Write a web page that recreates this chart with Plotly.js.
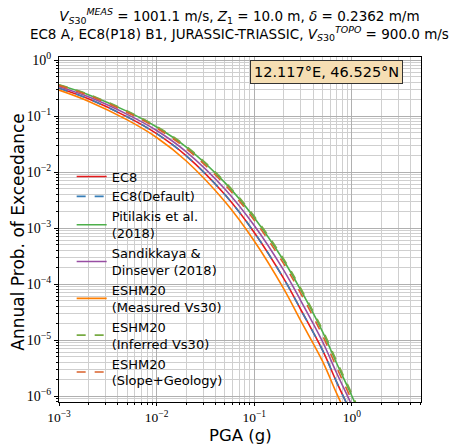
<!DOCTYPE html>
<html>
<head>
<meta charset="utf-8">
<script src="https://cdn.plot.ly/plotly-3.0.1.min.js"></script>
<style>html,body{margin:0;padding:0;background:#fff}#chart{width:456px;height:448px}</style>
</head>
<body>
<div id="chart"></div>
<script>
// PGA grid (g)
const pga = [0.001, 0.002, 0.005, 0.01, 0.02, 0.05, 0.1, 0.2, 0.3, 0.5, 0.7, 1.0, 1.2, 1.4];

// Annual probability of exceedance
const ec8         = [0.313, 0.203, 0.0966, 0.0485, 0.0197, 0.00396, 8.34e-4, 1.26e-4, 3.47e-5, 6.6e-6, 1.75e-6, 4.6e-7, 2.1e-7, 1.05e-7];
const ec8Default  = [0.313, 0.203, 0.0966, 0.0485, 0.0197, 0.00396, 8.34e-4, 1.26e-4, 3.47e-5, 6.6e-6, 1.75e-6, 4.6e-7, 2.1e-7, 1.05e-7];
const pitilakis   = [0.358, 0.241, 0.121, 0.0637, 0.0282, 0.00646, 0.00153, 2.63e-4, 7.76e-5, 1.41e-5, 3.80e-6, 1.00e-6, 4.79e-7, 2.51e-7];
const sandikkaya  = [0.333, 0.220, 0.107, 0.0552, 0.0232, 0.00499, 0.00111, 1.77e-4, 5.01e-5, 9.4e-6, 2.55e-6, 6.8e-7, 3.2e-7, 1.6e-7];
const eshmMeas    = [0.290, 0.184, 0.0853, 0.0414, 0.0159, 0.00297, 5.86e-4, 8.26e-5, 2.19e-5, 4.2e-6, 1.1e-6, 2.9e-7, 1.4e-7, 7.0e-8];
const eshmInfer   = [0.362, 0.245, 0.123, 0.0652, 0.0291, 0.00673, 0.00162, 2.81e-4, 8.32e-5, 1.53e-5, 4.15e-6, 1.09e-6, 5.13e-7, 2.51e-7];
const eshmSlope   = [0.350, 0.234, 0.116, 0.0608, 0.0264, 0.00593, 0.00138, 2.31e-4, 6.76e-5, 1.21e-5, 3.19e-6, 8.36e-7, 3.98e-7, 2.0e-7];

const seriesNames = ["EC8", "EC8(Default)", "Pitilakis et al.<br>(2018)", "Sandikkaya &amp;<br>Dinsever (2018)",
  "ESHM20<br>(Measured Vs30)", "ESHM20<br>(Inferred Vs30)", "ESHM20<br>(Slope+Geology)"];
const seriesData = [ec8, ec8Default, pitilakis, sandikkaya, eshmMeas, eshmInfer, eshmSlope];

const xTickVals = [0.001, 0.01, 0.1, 1];
const xTickText = ["10<sup>−3</sup>", "10<sup>−2</sup>", "10<sup>−1</sup>", "10<sup>0</sup>"];
const yTickVals = [1e-6, 1e-5, 1e-4, 1e-3, 1e-2, 1e-1, 1];
const yTickText = ["10<sup>−6</sup>", "10<sup>−5</sup>", "10<sup>−4</sup>", "10<sup>−3</sup>", "10<sup>−2</sup>", "10<sup>−1</sup>", "10<sup>0</sup>"];

const colors = ["#e41a1c", "#377eb8", "#4daf4a", "#984ea3", "#ff7f00", "#77ab43", "#d9622b"];
const dashes = ["solid", "dash", "solid", "solid", "solid", "dash", "dash"];

const traces = seriesData.map((ys, i) => ({
  x: pga, y: ys, type: "scatter", mode: "lines", name: seriesNames[i],
  line: {color: colors[i], width: 1.6, dash: dashes[i], shape: "spline", smoothing: 1}
}));

function minorVals(lo, hi) {
  const v = [];
  for (let e = lo; e <= hi; e++) for (let m = 2; m <= 9; m++) v.push(m * Math.pow(10, e));
  return v;
}

const sans = "DejaVu Sans, sans-serif";
const serif = "Liberation Serif, serif";

const layout = {
  width: 456, height: 448,
  margin: {l: 59, r: 35, t: 57, b: 46},
  paper_bgcolor: "#fff", plot_bgcolor: "#fff",
  showlegend: true,
  title: {
    text: "<i>V</i><sub><i>S</i>30</sub><sup><i>MEAS</i></sup> = 1001.1 m/s, <i>Z</i><sub>1</sub> = 10.0 m, <i>δ</i> = 0.2362 m/m<br>EC8 A, EC8(P18) B1, JURASSIC-TRIASSIC, <i>V</i><sub><i>S</i>30</sub><sup><i>TOPO</i></sup> = 900.0 m/s",
    x: 0.525, xanchor: "center", y: 0.953, yanchor: "top",
    font: {family: sans, size: 13.5, color: "#000"}
  },
  xaxis: {
    type: "log", range: [-3, 0.708],
    tickmode: "array", tickvals: xTickVals, ticktext: xTickText,
    tickfont: {family: serif, size: 13.5, color: "#000"},
    ticks: "outside", ticklen: 3, tickcolor: "#000",
    showgrid: true, gridcolor: "#b0b0b0", gridwidth: 1,
    minor: {tickmode: "array", tickvals: minorVals(-3, 0), ticks: "outside", ticklen: 2, tickcolor: "#000", showgrid: true, gridcolor: "#cfcfcf", gridwidth: 1},
    showline: true, linecolor: "#000", linewidth: 1, mirror: true, zeroline: false
  },
  yaxis: {
    type: "log", range: [-6.107, 0.054],
    tickmode: "array", tickvals: yTickVals, ticktext: yTickText,
    tickfont: {family: serif, size: 14, color: "#000"},
    ticks: "outside", ticklen: 4, tickcolor: "#000",
    showgrid: true, gridcolor: "#b0b0b0", gridwidth: 1,
    minor: {tickmode: "array", tickvals: minorVals(-7, 0), ticks: "outside", ticklen: 2, tickcolor: "#000", showgrid: true, gridcolor: "#cfcfcf", gridwidth: 1},
    showline: true, linecolor: "#000", linewidth: 1, mirror: true, zeroline: false
  },
  legend: {
    x: 0.035, y: 0.697, xanchor: "left", yanchor: "top",
    bgcolor: "rgba(255,255,255,0)", borderwidth: 0,
    font: {family: sans, size: 13, color: "#000"},
    valign: "middle", itemwidth: 30
  },
  annotations: [{
    xref: "paper", yref: "paper", x: 0.738, y: 0.957, xanchor: "center", yanchor: "middle",
    text: "12.117°E, 46.525°N", showarrow: false,
    font: {family: sans, size: 14.5, color: "#000"},
    bgcolor: "#f5deb3", bordercolor: "#333", borderwidth: 1, borderpad: 3
  }, {
    xref: "paper", yref: "paper", x: 0.5, y: -0.097, xanchor: "center", yanchor: "middle",
    text: "PGA (g)", showarrow: false,
    font: {family: sans, size: 16.5, color: "#000"}
  }, {
    xref: "paper", yref: "paper", x: -0.114, y: 0.493, xanchor: "center", yanchor: "middle",
    text: "Annual Prob. of Exceedance", showarrow: false, textangle: -90,
    font: {family: sans, size: 17, color: "#000"}
  }]
};

Plotly.newPlot("chart", traces, layout, {displayModeBar: false, staticPlot: true});
</script>
</body>
</html>
